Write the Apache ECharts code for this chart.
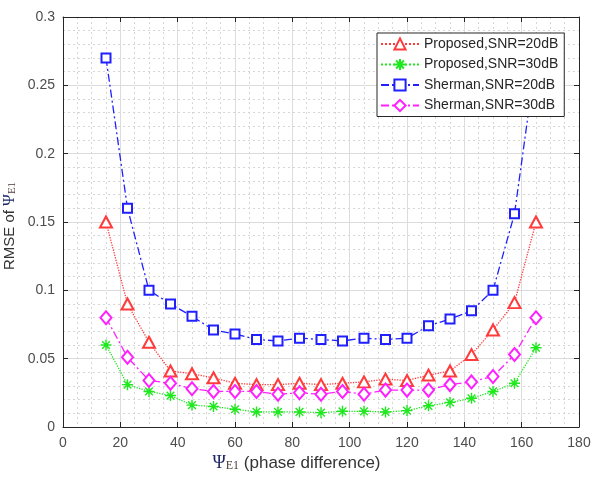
<!DOCTYPE html>
<html>
<head>
<meta charset="utf-8">
<script src="https://cdn.jsdelivr.net/npm/echarts@6/dist/echarts.min.js"></script>
<style>
  html, body { margin: 0; padding: 0; background: #fff; }
  #chart { width: 593px; height: 477px; }
</style>
</head>
<body>
<div id="chart"></div>
<script>
// Phase difference samples (degrees)
const phaseDiff = [15, 22.5, 30, 37.5, 45, 52.5, 60, 67.5, 75, 82.5, 90, 97.5,
                   105, 112.5, 120, 127.5, 135, 142.5, 150, 157.5, 165];

// RMSE per estimator / SNR
const proposed20 = [0.150, 0.090, 0.062, 0.041, 0.039, 0.036, 0.032, 0.031, 0.031, 0.032, 0.031,
                    0.032, 0.033, 0.035, 0.034, 0.038, 0.041, 0.053, 0.071, 0.091, 0.150];
const proposed30 = [0.060, 0.031, 0.026, 0.023, 0.016, 0.015, 0.013, 0.011, 0.011, 0.011, 0.0105,
                    0.0115, 0.0115, 0.011, 0.012, 0.0155, 0.018, 0.021, 0.026, 0.032, 0.058];
const sherman20  = [0.270, 0.160, 0.100, 0.090, 0.081, 0.071, 0.068, 0.064, 0.063, 0.065, 0.064,
                    0.063, 0.065, 0.064, 0.065, 0.074, 0.079, 0.085, 0.100, 0.156, 0.270];
const sherman30  = [0.080, 0.051, 0.034, 0.032, 0.028, 0.026, 0.026, 0.026, 0.024, 0.025, 0.024,
                    0.026, 0.024, 0.027, 0.027, 0.027, 0.031, 0.033, 0.037, 0.053, 0.080];

const seriesNames = ['Proposed,SNR=20dB', 'Proposed,SNR=30dB', 'Sherman,SNR=20dB', 'Sherman,SNR=30dB'];

// Axis ticks
const xTicks = [0, 20, 40, 60, 80, 100, 120, 140, 160, 180];
const yTicks = [0, 0.05, 0.1, 0.15, 0.2, 0.25, 0.3];

const FONT = "'Liberation Sans', Arial, Helvetica, sans-serif";
const AXIS_COLOR = '#262626';
const LABEL_COLOR = '#4d4d4d';

const pairs = (ys) => phaseDiff.map((x, i) => [x, ys[i]]);

const asterisk = 'path://M0,5L10,5M5,0L5,10M1.5,1.5L8.5,8.5M8.5,1.5L1.5,8.5';

function lineSeries(name, ys, color, dash, symbol, size, width) {
  return {
    name: name,
    type: 'line',
    xAxisIndex: 0,
    yAxisIndex: 0,
    data: pairs(ys),
    symbol: symbol,
    symbolSize: size,
    showAllSymbol: true,
    lineStyle: { color: color, width: width, type: dash },
    itemStyle: { color: color, borderColor: color, borderWidth: symbol === asterisk ? 1.4 : 1.2 },
    emphasis: { disabled: true },
    animation: false
  };
}

const chart = echarts.init(document.getElementById('chart'), null, { renderer: 'canvas' });

const baseX = {
  type: 'value', min: xTicks[0], max: xTicks[xTicks.length - 1], interval: 20
};
const baseY = {
  type: 'value', min: yTicks[0], max: yTicks[yTicks.length - 1], interval: 0.05
};

chart.setOption({
  backgroundColor: '#ffffff',
  animation: false,
  grid: { left: 63, right: 14, top: 17, bottom: 50, containLabel: false, outerBoundsMode: 'none' },
  legend: {
    orient: 'vertical',
    left: 377,
    top: 33,
    data: seriesNames,
    backgroundColor: '#ffffff',
    borderColor: AXIS_COLOR,
    borderWidth: 1,
    borderRadius: 0,
    padding: [4, 6, 4, 3],
    itemGap: 6.5,
    itemWidth: 38,
    itemHeight: 14,
    textStyle: { fontFamily: FONT, fontSize: 14, color: '#262626' },
    selectedMode: false,
    z: 10
  },
  xAxis: [
    Object.assign({}, baseX, {
      position: 'bottom',
      axisLine: { show: true, lineStyle: { color: AXIS_COLOR, width: 1 } },
      axisTick: { show: true, inside: true, length: 5, lineStyle: { color: AXIS_COLOR } },
      axisLabel: { color: LABEL_COLOR, fontFamily: FONT, fontSize: 14, margin: 9 },
      splitLine: { show: true, lineStyle: { color: '#dcdcdc', width: 1 } },
      minorTick: { show: false, splitNumber: 4 },
      minorSplitLine: { show: true, lineStyle: { color: '#d6d6d6', width: 1, type: [2, 3] } }
    }),
    Object.assign({}, baseX, {
      position: 'top',
      axisLine: { show: true, onZero: false, lineStyle: { color: AXIS_COLOR, width: 1 } },
      axisTick: { show: true, inside: true, length: 5, lineStyle: { color: AXIS_COLOR } },
      axisLabel: { show: false },
      splitLine: { show: false }
    })
  ],
  yAxis: [
    Object.assign({}, baseY, {
      position: 'left',
      axisLine: { show: true, onZero: false, lineStyle: { color: AXIS_COLOR, width: 1 } },
      axisTick: { show: true, inside: true, length: 5, lineStyle: { color: AXIS_COLOR } },
      axisLabel: {
        color: LABEL_COLOR, fontFamily: FONT, fontSize: 14, margin: 8,
        formatter: (v) => String(+v.toFixed(2))
      },
      splitLine: { show: true, lineStyle: { color: '#dcdcdc', width: 1 } },
      minorTick: { show: false, splitNumber: 5 },
      minorSplitLine: { show: true, lineStyle: { color: '#d6d6d6', width: 1, type: [2, 3] } }
    }),
    Object.assign({}, baseY, {
      position: 'right',
      axisLine: { show: true, onZero: false, lineStyle: { color: AXIS_COLOR, width: 1 } },
      axisTick: { show: true, inside: true, length: 5, lineStyle: { color: AXIS_COLOR } },
      axisLabel: { show: false },
      splitLine: { show: false }
    })
  ],
  graphic: [
    {
      // x-axis title
      type: 'text',
      left: 'center',
      top: 454,
      style: {
        text: '{psi|Ψ}{sub|E1}{txt| (phase difference)}',
        rich: {
          psi: { fontFamily: "'Liberation Serif', 'DejaVu Serif', serif", fontSize: 18, fill: '#1a2466' },
          sub: { fontFamily: "'Liberation Serif', 'DejaVu Serif', serif", fontSize: 12, fill: '#4a3a3a', padding: [6, 0, 0, 0] },
          txt: { fontFamily: FONT, fontSize: 17, fill: '#333333' }
        }
      }
    },
    {
      // y-axis title (rotated)
      type: 'text',
      x: 10,
      y: 226,
      rotation: Math.PI / 2,
      style: {
        text: '{txt|RMSE of }{psi|Ψ}{sub|E1}',
        align: 'center',
        verticalAlign: 'middle',
        rich: {
          txt: { fontFamily: FONT, fontSize: 15, fill: '#333333' },
          psi: { fontFamily: "'Liberation Serif', 'DejaVu Serif', serif", fontSize: 16, fill: '#1a2466' },
          sub: { fontFamily: "'Liberation Serif', 'DejaVu Serif', serif", fontSize: 11, fill: '#4a3a3a', padding: [5, 0, 0, 0] }
        }
      }
    }
  ],
  series: [
    lineSeries(seriesNames[0], proposed20, '#ff3b3b', 'dotted', 'emptyTriangle', [12, 11], 1.3),
    lineSeries(seriesNames[1], proposed30, '#1fe81f', 'dotted', asterisk, 11, 1.3),
    lineSeries(seriesNames[2], sherman20, '#2020ff', [8, 3, 2, 3], 'emptyRect', 9, 1.3),
    lineSeries(seriesNames[3], sherman30, '#ff1fff', [8, 3, 2, 3], 'emptyDiamond', [11, 13], 1.3)
  ]
});
</script>
</body>
</html>
